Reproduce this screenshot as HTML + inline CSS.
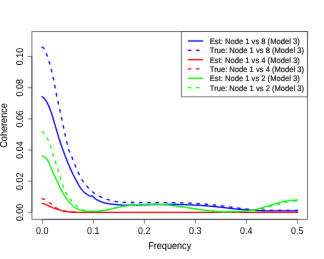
<!DOCTYPE html>
<html><head><meta charset="utf-8"><title>Coherence</title>
<style>
html,body{margin:0;padding:0;background:#fff;}
body{width:324px;height:259px;overflow:hidden;position:relative;}
svg text{font-family:"Liberation Sans",sans-serif;fill:#000;text-rendering:geometricPrecision;}
</style></head><body>
<svg width="324" height="259" viewBox="0 0 324 259" style="display:block;position:absolute;left:0;top:0">
<defs><filter id="tb" filterUnits="userSpaceOnUse" x="0" y="0" width="324" height="259" color-interpolation-filters="sRGB"><feConvolveMatrix order="3" kernelMatrix="0.0016 0.0368 0.0016 0.0368 0.8464 0.0368 0.0016 0.0368 0.0016" preserveAlpha="false" edgeMode="duplicate"/></filter></defs>
<defs><filter id="bl" filterUnits="userSpaceOnUse" x="0" y="0" width="324" height="259" color-interpolation-filters="sRGB"><feConvolveMatrix order="3" kernelMatrix="0.0036 0.0528 0.0036 0.0528 0.7744 0.0528 0.0036 0.0528 0.0036" preserveAlpha="false" edgeMode="duplicate"/></filter></defs>
<rect x="0" y="0" width="324" height="259" fill="#fff"/>
<g filter="url(#bl)">
<g><path d="M41.65,96.40 L42.15,96.67 L42.65,97.02 L43.15,97.44 L43.65,97.92 L44.15,98.46 L44.65,99.04 L45.15,99.67 L45.65,100.32 L46.00,100.80 L46.15,101.01 L46.65,101.79 L47.15,102.67 L47.65,103.65 L48.15,104.72 L48.65,105.85 L49.15,107.04 L49.65,108.29 L50.15,109.57 L50.65,110.87 L51.00,111.80 L51.15,112.20 L51.65,113.64 L52.15,115.20 L52.65,116.84 L53.15,118.54 L53.65,120.27 L54.15,122.00 L54.65,123.70 L54.80,124.20 L55.15,125.37 L55.65,127.07 L56.15,128.80 L56.65,130.54 L57.15,132.27 L57.65,133.99 L58.15,135.68 L58.65,137.33 L59.15,138.93 L59.30,139.40 L59.65,140.47 L60.15,141.98 L60.65,143.45 L61.15,144.89 L61.65,146.31 L62.15,147.71 L62.65,149.10 L63.15,150.47 L63.60,151.70 L63.65,151.84 L64.15,153.19 L64.65,154.54 L65.15,155.86 L65.65,157.17 L66.15,158.46 L66.65,159.73 L67.15,160.98 L67.20,161.10 L67.65,162.20 L68.15,163.42 L68.65,164.62 L69.15,165.81 L69.65,166.98 L70.15,168.13 L70.65,169.26 L71.15,170.37 L71.65,171.46 L72.00,172.20 L72.15,172.51 L72.65,173.54 L73.15,174.55 L73.65,175.53 L74.15,176.49 L74.65,177.44 L75.15,178.38 L75.65,179.31 L76.15,180.25 L76.50,180.90 L76.65,181.18 L77.15,182.14 L77.65,183.09 L78.15,184.03 L78.65,184.93 L79.15,185.77 L79.30,186.00 L79.65,186.53 L80.15,187.28 L80.65,188.01 L81.15,188.70 L81.65,189.37 L82.15,190.00 L82.65,190.60 L83.15,191.15 L83.60,191.60 L83.65,191.65 L84.15,192.12 L84.65,192.56 L85.15,192.98 L85.65,193.39 L86.15,193.77 L86.65,194.13 L87.15,194.47 L87.65,194.79 L88.15,195.10 L88.50,195.30 L88.65,195.39 L89.15,195.70 L89.65,195.99 L90.15,196.17 L90.40,196.20 L90.65,196.18 L91.15,196.09 L91.65,195.97 L92.15,195.90 L92.20,195.90 L92.65,196.06 L93.15,196.51 L93.65,197.13 L94.15,197.76 L94.65,198.26 L94.70,198.30 L95.15,198.62 L95.65,198.96 L96.15,199.29 L96.65,199.59 L97.15,199.88 L97.65,200.15 L98.15,200.41 L98.65,200.66 L99.15,200.90 L99.60,201.10 L99.65,201.12 L100.15,201.34 L100.65,201.55 L101.15,201.76 L101.65,201.95 L102.15,202.14 L102.65,202.32 L103.15,202.49 L103.65,202.64 L104.15,202.78 L104.60,202.90 L104.65,202.91 L105.15,203.03 L105.65,203.14 L106.15,203.25 L106.65,203.35 L107.15,203.44 L107.65,203.53 L108.15,203.61 L108.65,203.70 L109.15,203.77 L109.65,203.85 L110.00,203.90 L110.15,203.92 L110.65,203.99 L111.15,204.06 L111.65,204.13 L112.15,204.20 L112.65,204.26 L113.15,204.32 L113.65,204.37 L114.15,204.42 L114.65,204.47 L115.00,204.50 L115.15,204.51 L115.65,204.55 L116.15,204.60 L116.65,204.64 L117.15,204.68 L117.65,204.72 L118.15,204.76 L118.65,204.80 L119.15,204.84 L119.65,204.88 L120.15,204.91 L120.65,204.95 L121.15,204.98 L121.65,205.01 L122.15,205.03 L122.65,205.05 L123.15,205.07 L123.65,205.08 L124.15,205.09 L124.65,205.10 L125.00,205.10 L125.15,205.10 L125.65,205.10 L126.15,205.10 L126.65,205.10 L127.15,205.10 L127.65,205.10 L128.15,205.10 L128.65,205.10 L129.15,205.10 L129.65,205.10 L130.15,205.10 L130.65,205.10 L131.15,205.10 L131.65,205.10 L132.15,205.10 L132.65,205.10 L133.15,205.10 L133.65,205.10 L134.15,205.10 L134.65,205.10 L135.00,205.10 L135.15,205.10 L135.65,205.10 L136.15,205.10 L136.65,205.09 L137.15,205.09 L137.65,205.08 L138.15,205.07 L138.65,205.06 L139.15,205.05 L139.65,205.04 L140.15,205.03 L140.65,205.01 L141.15,205.00 L141.65,204.98 L142.15,204.97 L142.65,204.95 L143.15,204.93 L143.65,204.92 L144.15,204.90 L144.65,204.88 L145.15,204.87 L145.65,204.85 L146.15,204.83 L146.65,204.81 L147.15,204.79 L147.65,204.78 L148.15,204.76 L148.65,204.74 L149.15,204.73 L149.65,204.71 L150.15,204.70 L150.65,204.68 L151.15,204.67 L151.65,204.66 L152.15,204.65 L152.65,204.63 L153.15,204.62 L153.65,204.62 L154.15,204.61 L154.65,204.60 L155.00,204.60 L155.15,204.60 L155.65,204.59 L156.15,204.59 L156.65,204.59 L157.15,204.58 L157.65,204.58 L158.15,204.57 L158.65,204.57 L159.15,204.57 L159.65,204.56 L160.15,204.56 L160.65,204.56 L161.15,204.55 L161.65,204.55 L162.15,204.55 L162.65,204.54 L163.15,204.54 L163.65,204.54 L164.15,204.53 L164.65,204.53 L165.15,204.53 L165.65,204.53 L166.15,204.52 L166.65,204.52 L167.15,204.52 L167.65,204.52 L168.15,204.51 L168.65,204.51 L169.15,204.51 L169.65,204.51 L170.15,204.51 L170.65,204.51 L171.15,204.50 L171.65,204.50 L172.15,204.50 L172.65,204.50 L173.15,204.50 L173.65,204.50 L174.15,204.50 L174.65,204.50 L175.00,204.50 L175.15,204.50 L175.65,204.50 L176.15,204.50 L176.65,204.51 L177.15,204.51 L177.65,204.52 L178.15,204.52 L178.65,204.53 L179.15,204.54 L179.65,204.55 L180.15,204.56 L180.65,204.57 L181.15,204.58 L181.65,204.59 L182.15,204.61 L182.65,204.62 L183.15,204.64 L183.65,204.65 L184.15,204.67 L184.65,204.68 L185.15,204.70 L185.65,204.72 L186.15,204.74 L186.65,204.76 L187.15,204.78 L187.65,204.80 L188.15,204.82 L188.65,204.84 L189.15,204.86 L189.65,204.88 L190.15,204.90 L190.65,204.92 L191.15,204.94 L191.65,204.96 L192.15,204.98 L192.65,205.01 L193.15,205.03 L193.65,205.05 L194.15,205.07 L194.65,205.09 L194.80,205.10 L195.15,205.12 L195.65,205.14 L196.15,205.16 L196.65,205.19 L197.15,205.22 L197.65,205.24 L198.15,205.27 L198.65,205.30 L199.15,205.33 L199.65,205.37 L200.15,205.40 L200.65,205.43 L201.15,205.47 L201.65,205.50 L202.15,205.54 L202.65,205.58 L203.15,205.62 L203.65,205.65 L204.15,205.69 L204.65,205.73 L205.15,205.77 L205.65,205.82 L206.15,205.86 L206.65,205.90 L207.15,205.94 L207.65,205.99 L208.15,206.03 L208.65,206.07 L209.15,206.12 L209.65,206.16 L210.15,206.21 L210.65,206.25 L211.15,206.30 L211.65,206.34 L212.15,206.39 L212.65,206.43 L213.15,206.48 L213.65,206.52 L214.15,206.57 L214.50,206.60 L214.65,206.61 L215.15,206.66 L215.65,206.71 L216.15,206.76 L216.65,206.81 L217.15,206.86 L217.65,206.91 L218.15,206.96 L218.65,207.02 L219.15,207.07 L219.65,207.13 L220.15,207.18 L220.65,207.24 L221.15,207.30 L221.65,207.36 L222.15,207.41 L222.65,207.47 L223.15,207.53 L223.65,207.59 L224.15,207.65 L224.65,207.71 L225.15,207.77 L225.65,207.83 L226.15,207.89 L226.65,207.95 L227.15,208.01 L227.65,208.07 L228.15,208.13 L228.65,208.19 L229.15,208.24 L229.65,208.30 L230.15,208.36 L230.65,208.42 L231.15,208.47 L231.65,208.53 L232.15,208.58 L232.65,208.63 L233.15,208.68 L233.65,208.74 L234.15,208.79 L234.30,208.80 L234.65,208.83 L235.15,208.88 L235.65,208.93 L236.15,208.98 L236.65,209.03 L237.15,209.08 L237.65,209.13 L238.15,209.18 L238.65,209.23 L239.15,209.28 L239.65,209.33 L240.15,209.38 L240.65,209.43 L241.15,209.47 L241.65,209.52 L242.15,209.57 L242.65,209.61 L243.15,209.66 L243.65,209.70 L244.15,209.75 L244.65,209.79 L245.15,209.83 L245.65,209.87 L246.15,209.91 L246.65,209.94 L247.15,209.98 L247.65,210.01 L248.15,210.05 L248.65,210.08 L249.00,210.10 L249.15,210.11 L249.65,210.14 L250.15,210.17 L250.65,210.20 L251.15,210.23 L251.65,210.26 L252.15,210.29 L252.65,210.31 L253.15,210.34 L253.65,210.37 L254.15,210.40 L254.65,210.43 L255.15,210.45 L255.65,210.48 L256.15,210.51 L256.65,210.53 L257.15,210.56 L257.65,210.58 L258.15,210.60 L258.65,210.63 L259.15,210.65 L259.65,210.67 L260.15,210.68 L260.65,210.70 L261.15,210.72 L261.65,210.73 L262.15,210.75 L262.65,210.76 L263.15,210.77 L263.65,210.78 L264.15,210.79 L264.65,210.80 L265.00,210.80 L265.15,210.80 L265.65,210.81 L266.15,210.81 L266.65,210.81 L267.15,210.82 L267.65,210.82 L268.15,210.83 L268.65,210.83 L269.15,210.84 L269.65,210.84 L270.15,210.84 L270.65,210.85 L271.15,210.85 L271.65,210.85 L272.15,210.86 L272.65,210.86 L273.15,210.86 L273.65,210.87 L274.15,210.87 L274.65,210.87 L275.15,210.88 L275.65,210.88 L276.15,210.88 L276.65,210.89 L277.15,210.89 L277.65,210.89 L278.15,210.90 L278.65,210.90 L279.15,210.90 L279.65,210.90 L280.15,210.91 L280.65,210.91 L281.15,210.91 L281.65,210.91 L282.15,210.92 L282.65,210.92 L283.15,210.92 L283.65,210.92 L284.15,210.92 L284.65,210.93 L285.15,210.93 L285.65,210.93 L286.15,210.93 L286.65,210.93 L287.15,210.93 L287.65,210.94 L288.15,210.94 L288.65,210.94 L289.15,210.94 L289.65,210.94 L290.15,210.94 L290.65,210.94 L291.15,210.94 L291.65,210.94 L292.15,210.95 L292.65,210.95 L293.15,210.95 L293.65,210.95 L294.15,210.95 L294.65,210.95 L295.15,210.95 L295.65,210.95 L296.15,210.95 L296.65,210.95 L297.15,210.95 L297.65,210.95 L298.00,210.95" fill="none" stroke="#0000ff" stroke-width="1.3" stroke-linejoin="round" stroke-linecap="butt"/>
<path d="M41.65,47.00 L42.15,47.08 L42.65,47.31 L43.15,47.67 L43.65,48.11 L44.15,48.62 L44.50,49.00 L44.65,49.19 L45.15,50.07 L45.65,51.27 L46.15,52.65 L46.65,54.09 L46.90,54.80 L47.15,55.50 L47.65,56.98 L48.15,58.55 L48.65,60.19 L49.15,61.89 L49.65,63.65 L50.15,65.45 L50.60,67.10 L50.65,67.28 L51.15,69.15 L51.65,71.08 L52.15,73.08 L52.65,75.16 L53.15,77.34 L53.60,79.40 L53.65,79.64 L54.15,82.17 L54.65,84.93 L55.15,87.79 L55.65,90.60 L56.15,93.25 L56.20,93.50 L56.65,95.69 L57.15,98.05 L57.65,100.33 L58.15,102.55 L58.65,104.74 L59.15,106.92 L59.65,109.10 L60.15,111.31 L60.65,113.55 L60.90,114.70 L61.15,115.86 L61.65,118.23 L62.15,120.63 L62.65,123.06 L63.15,125.49 L63.65,127.91 L64.15,130.30 L64.65,132.64 L65.15,134.92 L65.60,136.90 L65.65,137.12 L66.15,139.31 L66.65,141.51 L67.15,143.68 L67.65,145.76 L68.15,147.69 L68.65,149.43 L69.00,150.50 L69.15,150.92 L69.65,152.18 L70.15,153.29 L70.65,154.34 L71.15,155.42 L71.40,156.00 L71.65,156.61 L72.15,157.85 L72.65,159.13 L73.15,160.42 L73.65,161.71 L74.15,162.99 L74.65,164.24 L74.80,164.60 L75.15,165.44 L75.65,166.65 L76.15,167.84 L76.65,169.00 L77.15,170.15 L77.65,171.25 L78.00,172.00 L78.15,172.32 L78.65,173.36 L79.15,174.39 L79.65,175.41 L80.15,176.39 L80.65,177.33 L81.15,178.24 L81.65,179.09 L81.90,179.50 L82.15,179.89 L82.65,180.66 L83.15,181.39 L83.65,182.09 L84.15,182.77 L84.65,183.42 L85.15,184.06 L85.65,184.68 L86.15,185.30 L86.40,185.60 L86.65,185.90 L87.15,186.50 L87.65,187.08 L88.15,187.65 L88.65,188.21 L89.15,188.75 L89.65,189.26 L90.15,189.76 L90.40,190.00 L90.65,190.23 L91.15,190.69 L91.65,191.12 L92.15,191.54 L92.65,191.94 L93.15,192.33 L93.50,192.60 L93.65,192.71 L94.15,193.09 L94.65,193.46 L95.15,193.81 L95.65,194.15 L96.15,194.48 L96.50,194.70 L96.65,194.79 L97.15,195.09 L97.65,195.38 L98.15,195.66 L98.65,195.93 L99.15,196.19 L99.65,196.44 L100.15,196.68 L100.20,196.70 L100.65,196.90 L101.15,197.11 L101.65,197.31 L102.15,197.51 L102.65,197.70 L103.15,197.89 L103.65,198.07 L104.00,198.20 L104.15,198.26 L104.65,198.44 L105.15,198.63 L105.65,198.81 L106.15,198.99 L106.65,199.16 L107.15,199.33 L107.65,199.48 L107.70,199.50 L108.15,199.64 L108.65,199.80 L109.15,199.95 L109.65,200.11 L110.15,200.26 L110.65,200.41 L111.15,200.56 L111.65,200.70 L112.15,200.84 L112.65,200.97 L113.15,201.08 L113.65,201.19 L114.15,201.29 L114.65,201.38 L114.80,201.40 L115.15,201.45 L115.65,201.53 L116.15,201.60 L116.65,201.67 L117.15,201.74 L117.65,201.81 L118.15,201.87 L118.65,201.94 L119.15,202.00 L119.65,202.05 L120.15,202.11 L120.65,202.16 L121.15,202.20 L121.65,202.25 L122.15,202.28 L122.65,202.32 L123.15,202.35 L123.65,202.37 L124.15,202.39 L124.65,202.40 L124.70,202.40 L125.15,202.41 L125.65,202.42 L126.15,202.42 L126.65,202.43 L127.15,202.44 L127.65,202.44 L128.15,202.45 L128.65,202.46 L129.15,202.46 L129.65,202.47 L130.15,202.48 L130.65,202.48 L131.15,202.49 L131.65,202.49 L132.15,202.50 L132.65,202.50 L133.15,202.50 L133.65,202.51 L134.15,202.51 L134.65,202.52 L135.15,202.52 L135.65,202.52 L136.15,202.53 L136.65,202.53 L137.15,202.53 L137.65,202.54 L138.15,202.54 L138.65,202.54 L139.15,202.55 L139.65,202.55 L140.15,202.55 L140.65,202.56 L141.15,202.56 L141.65,202.56 L142.15,202.56 L142.65,202.56 L143.15,202.57 L143.65,202.57 L144.15,202.57 L144.65,202.57 L145.15,202.58 L145.65,202.58 L146.15,202.58 L146.65,202.58 L147.15,202.59 L147.65,202.59 L148.15,202.59 L148.65,202.59 L149.15,202.60 L149.65,202.60 L150.00,202.60 L150.15,202.60 L150.65,202.60 L151.15,202.61 L151.65,202.61 L152.15,202.61 L152.65,202.61 L153.15,202.61 L153.65,202.62 L154.15,202.62 L154.65,202.62 L155.15,202.62 L155.65,202.62 L156.15,202.63 L156.65,202.63 L157.15,202.63 L157.65,202.63 L158.15,202.63 L158.65,202.63 L159.15,202.63 L159.65,202.64 L160.15,202.64 L160.65,202.64 L161.15,202.64 L161.65,202.64 L162.15,202.64 L162.65,202.64 L163.15,202.65 L163.65,202.65 L164.15,202.65 L164.65,202.65 L165.15,202.65 L165.65,202.65 L166.15,202.65 L166.65,202.66 L167.15,202.66 L167.65,202.66 L168.15,202.66 L168.65,202.66 L169.15,202.67 L169.65,202.67 L170.15,202.67 L170.65,202.67 L171.15,202.68 L171.65,202.68 L172.15,202.68 L172.65,202.68 L173.15,202.69 L173.65,202.69 L174.15,202.69 L174.65,202.70 L175.00,202.70 L175.15,202.70 L175.65,202.71 L176.15,202.71 L176.65,202.72 L177.15,202.73 L177.65,202.73 L178.15,202.74 L178.65,202.75 L179.15,202.76 L179.65,202.78 L180.15,202.79 L180.65,202.80 L181.15,202.82 L181.65,202.83 L182.15,202.85 L182.65,202.86 L183.15,202.88 L183.65,202.90 L184.15,202.92 L184.65,202.94 L185.15,202.96 L185.65,202.98 L186.15,203.00 L186.65,203.02 L187.15,203.04 L187.65,203.06 L188.15,203.08 L188.65,203.11 L189.15,203.13 L189.65,203.15 L190.15,203.17 L190.65,203.20 L191.15,203.22 L191.65,203.25 L192.15,203.27 L192.65,203.29 L193.15,203.32 L193.65,203.34 L194.15,203.37 L194.65,203.39 L194.80,203.40 L195.15,203.42 L195.65,203.44 L196.15,203.47 L196.65,203.50 L197.15,203.53 L197.65,203.56 L198.15,203.59 L198.65,203.62 L199.15,203.65 L199.65,203.69 L200.15,203.72 L200.65,203.76 L201.15,203.80 L201.65,203.83 L202.15,203.87 L202.65,203.91 L203.15,203.95 L203.65,203.99 L204.15,204.03 L204.65,204.07 L205.15,204.12 L205.65,204.16 L206.15,204.20 L206.65,204.25 L207.15,204.29 L207.65,204.34 L208.15,204.38 L208.65,204.43 L209.15,204.48 L209.65,204.52 L210.15,204.57 L210.65,204.62 L211.15,204.67 L211.65,204.72 L212.15,204.77 L212.65,204.82 L213.15,204.87 L213.65,204.91 L214.15,204.96 L214.50,205.00 L214.65,205.02 L215.15,205.07 L215.65,205.12 L216.15,205.17 L216.65,205.23 L217.15,205.29 L217.65,205.35 L218.15,205.41 L218.65,205.47 L219.15,205.53 L219.65,205.60 L220.15,205.66 L220.65,205.73 L221.15,205.80 L221.65,205.86 L222.15,205.93 L222.65,206.00 L223.15,206.07 L223.65,206.14 L224.15,206.21 L224.65,206.28 L225.15,206.35 L225.65,206.42 L226.15,206.49 L226.65,206.56 L227.15,206.64 L227.65,206.71 L228.15,206.78 L228.65,206.85 L229.15,206.92 L229.65,206.99 L230.15,207.06 L230.65,207.12 L231.15,207.19 L231.65,207.26 L232.15,207.33 L232.65,207.39 L233.15,207.46 L233.65,207.52 L234.15,207.58 L234.30,207.60 L234.65,207.64 L235.15,207.71 L235.65,207.77 L236.15,207.83 L236.65,207.90 L237.15,207.96 L237.65,208.02 L238.15,208.09 L238.65,208.15 L239.15,208.22 L239.65,208.28 L240.15,208.35 L240.65,208.41 L241.15,208.47 L241.65,208.54 L242.15,208.60 L242.65,208.66 L243.15,208.72 L243.65,208.78 L244.15,208.83 L244.65,208.89 L245.15,208.94 L245.65,209.00 L246.15,209.05 L246.65,209.10 L247.15,209.14 L247.65,209.19 L248.15,209.23 L248.65,209.27 L249.00,209.30 L249.15,209.31 L249.65,209.35 L250.15,209.39 L250.65,209.43 L251.15,209.46 L251.65,209.50 L252.15,209.54 L252.65,209.58 L253.15,209.61 L253.65,209.65 L254.15,209.68 L254.65,209.72 L255.15,209.75 L255.65,209.79 L256.15,209.82 L256.65,209.85 L257.15,209.88 L257.65,209.91 L258.15,209.94 L258.65,209.97 L259.15,210.00 L259.65,210.02 L260.15,210.05 L260.65,210.07 L261.15,210.09 L261.65,210.11 L262.15,210.13 L262.65,210.14 L263.15,210.16 L263.65,210.17 L264.15,210.18 L264.65,210.19 L265.00,210.20 L265.15,210.20 L265.65,210.21 L266.15,210.22 L266.65,210.22 L267.15,210.23 L267.65,210.24 L268.15,210.24 L268.65,210.25 L269.15,210.26 L269.65,210.26 L270.15,210.27 L270.65,210.28 L271.15,210.28 L271.65,210.29 L272.15,210.29 L272.65,210.30 L273.15,210.31 L273.65,210.31 L274.15,210.32 L274.65,210.32 L275.15,210.33 L275.65,210.33 L276.15,210.34 L276.65,210.34 L277.15,210.35 L277.65,210.35 L278.15,210.36 L278.65,210.36 L279.15,210.37 L279.65,210.37 L280.15,210.37 L280.65,210.38 L281.15,210.38 L281.65,210.39 L282.15,210.39 L282.65,210.39 L283.15,210.40 L283.65,210.40 L284.15,210.40 L284.65,210.41 L285.15,210.41 L285.65,210.41 L286.15,210.42 L286.65,210.42 L287.15,210.42 L287.65,210.42 L288.15,210.43 L288.65,210.43 L289.15,210.43 L289.65,210.43 L290.15,210.44 L290.65,210.44 L291.15,210.44 L291.65,210.44 L292.15,210.44 L292.65,210.44 L293.15,210.44 L293.65,210.45 L294.15,210.45 L294.65,210.45 L295.15,210.45 L295.65,210.45 L296.15,210.45 L296.65,210.45 L297.15,210.45 L297.65,210.45 L298.00,210.45" fill="none" stroke="#0000ff" stroke-width="1.3" stroke-linejoin="round" stroke-dasharray="3.6 4.6" stroke-linecap="butt"/>
<path d="M41.65,203.30 L42.15,203.37 L42.65,203.46 L43.15,203.57 L43.65,203.69 L44.15,203.83 L44.65,203.99 L45.15,204.15 L45.30,204.20 L45.65,204.33 L46.15,204.56 L46.65,204.81 L47.15,205.09 L47.65,205.36 L48.15,205.63 L48.30,205.70 L48.65,205.87 L49.15,206.11 L49.65,206.35 L50.15,206.58 L50.65,206.81 L51.15,207.04 L51.65,207.25 L52.00,207.40 L52.15,207.46 L52.65,207.66 L53.15,207.86 L53.65,208.05 L54.15,208.23 L54.65,208.41 L55.15,208.58 L55.65,208.75 L55.80,208.80 L56.15,208.91 L56.65,209.07 L57.15,209.22 L57.65,209.37 L58.15,209.52 L58.65,209.66 L59.15,209.80 L59.50,209.90 L59.65,209.94 L60.15,210.09 L60.65,210.23 L61.15,210.37 L61.65,210.51 L62.15,210.65 L62.65,210.77 L63.15,210.89 L63.20,210.90 L63.65,211.00 L64.15,211.11 L64.65,211.21 L65.15,211.32 L65.65,211.42 L66.15,211.51 L66.65,211.60 L67.15,211.67 L67.65,211.74 L68.10,211.80 L68.15,211.81 L68.65,211.86 L69.15,211.92 L69.65,211.97 L70.15,212.02 L70.65,212.06 L71.15,212.10 L71.65,212.14 L72.15,212.17 L72.65,212.19 L73.00,212.20 L73.15,212.20 L73.65,212.22 L74.15,212.23 L74.65,212.24 L75.15,212.25 L75.65,212.26 L76.15,212.27 L76.65,212.27 L77.15,212.28 L77.65,212.29 L78.15,212.29 L78.65,212.30 L79.15,212.30 L79.65,212.30 L80.00,212.30 L80.15,212.30 L80.65,212.30 L81.15,212.30 L81.65,212.30 L82.15,212.30 L82.65,212.30 L83.15,212.30 L83.65,212.30 L84.15,212.30 L84.65,212.30 L85.15,212.30 L85.65,212.30 L86.15,212.30 L86.65,212.30 L87.15,212.30 L87.65,212.30 L88.15,212.30 L88.65,212.30 L89.15,212.30 L89.65,212.30 L90.15,212.30 L90.65,212.30 L91.15,212.30 L91.65,212.30 L92.15,212.30 L92.65,212.30 L93.15,212.30 L93.65,212.30 L94.15,212.30 L94.65,212.30 L95.15,212.30 L95.65,212.30 L96.15,212.30 L96.65,212.30 L97.15,212.30 L97.65,212.30 L98.15,212.30 L98.65,212.30 L99.15,212.30 L99.65,212.30 L100.15,212.30 L100.65,212.30 L101.15,212.30 L101.65,212.30 L102.15,212.30 L102.65,212.30 L103.15,212.30 L103.65,212.30 L104.15,212.30 L104.65,212.30 L105.15,212.30 L105.65,212.30 L106.15,212.30 L106.65,212.30 L107.15,212.30 L107.65,212.30 L108.15,212.30 L108.65,212.30 L109.15,212.30 L109.65,212.30 L110.15,212.30 L110.65,212.30 L111.15,212.30 L111.65,212.30 L112.15,212.30 L112.65,212.30 L113.15,212.30 L113.65,212.30 L114.15,212.30 L114.65,212.30 L115.15,212.30 L115.65,212.30 L116.15,212.30 L116.65,212.30 L117.15,212.30 L117.65,212.30 L118.15,212.30 L118.65,212.30 L119.15,212.30 L119.65,212.30 L120.15,212.30 L120.65,212.30 L121.15,212.30 L121.65,212.30 L122.15,212.30 L122.65,212.30 L123.15,212.30 L123.65,212.30 L124.15,212.30 L124.65,212.30 L125.15,212.30 L125.65,212.30 L126.15,212.30 L126.65,212.30 L127.15,212.30 L127.65,212.30 L128.15,212.30 L128.65,212.30 L129.15,212.30 L129.65,212.30 L130.15,212.30 L130.65,212.30 L131.15,212.30 L131.65,212.30 L132.15,212.30 L132.65,212.30 L133.15,212.30 L133.65,212.30 L134.15,212.30 L134.65,212.30 L135.15,212.30 L135.65,212.30 L136.15,212.30 L136.65,212.30 L137.15,212.30 L137.65,212.30 L138.15,212.30 L138.65,212.30 L139.15,212.30 L139.65,212.30 L140.15,212.30 L140.65,212.30 L141.15,212.30 L141.65,212.30 L142.15,212.30 L142.65,212.30 L143.15,212.30 L143.65,212.30 L144.15,212.30 L144.65,212.30 L145.15,212.30 L145.65,212.30 L146.15,212.30 L146.65,212.30 L147.15,212.30 L147.65,212.30 L148.15,212.30 L148.65,212.30 L149.15,212.30 L149.65,212.30 L150.15,212.30 L150.65,212.30 L151.15,212.30 L151.65,212.30 L152.15,212.30 L152.65,212.30 L153.15,212.30 L153.65,212.30 L154.15,212.30 L154.65,212.30 L155.15,212.30 L155.65,212.30 L156.15,212.30 L156.65,212.30 L157.15,212.30 L157.65,212.30 L158.15,212.30 L158.65,212.30 L159.15,212.30 L159.65,212.30 L160.15,212.30 L160.65,212.30 L161.15,212.30 L161.65,212.30 L162.15,212.30 L162.65,212.30 L163.15,212.30 L163.65,212.30 L164.15,212.30 L164.65,212.30 L165.15,212.30 L165.65,212.30 L166.15,212.30 L166.65,212.30 L167.15,212.30 L167.65,212.30 L168.15,212.30 L168.65,212.30 L169.15,212.30 L169.65,212.30 L170.15,212.30 L170.65,212.30 L171.15,212.30 L171.65,212.30 L172.15,212.30 L172.65,212.30 L173.15,212.30 L173.65,212.30 L174.15,212.30 L174.65,212.30 L175.15,212.30 L175.65,212.30 L176.15,212.30 L176.65,212.30 L177.15,212.30 L177.65,212.30 L178.15,212.30 L178.65,212.30 L179.15,212.30 L179.65,212.30 L180.15,212.30 L180.65,212.30 L181.15,212.30 L181.65,212.30 L182.15,212.30 L182.65,212.30 L183.15,212.30 L183.65,212.30 L184.15,212.30 L184.65,212.30 L185.15,212.30 L185.65,212.30 L186.15,212.30 L186.65,212.30 L187.15,212.30 L187.65,212.30 L188.15,212.30 L188.65,212.30 L189.15,212.30 L189.65,212.30 L190.15,212.30 L190.65,212.30 L191.15,212.30 L191.65,212.30 L192.15,212.30 L192.65,212.30 L193.15,212.30 L193.65,212.30 L194.15,212.30 L194.65,212.30 L195.15,212.30 L195.65,212.30 L196.15,212.30 L196.65,212.30 L197.15,212.30 L197.65,212.30 L198.15,212.30 L198.65,212.30 L199.15,212.30 L199.65,212.30 L200.15,212.30 L200.65,212.30 L201.15,212.30 L201.65,212.30 L202.15,212.30 L202.65,212.30 L203.15,212.30 L203.65,212.30 L204.15,212.30 L204.65,212.30 L205.15,212.30 L205.65,212.30 L206.15,212.30 L206.65,212.30 L207.15,212.30 L207.65,212.30 L208.15,212.30 L208.65,212.30 L209.15,212.30 L209.65,212.30 L210.15,212.30 L210.65,212.30 L211.15,212.30 L211.65,212.30 L212.15,212.30 L212.65,212.30 L213.15,212.30 L213.65,212.30 L214.15,212.30 L214.65,212.30 L215.15,212.30 L215.65,212.30 L216.15,212.30 L216.65,212.30 L217.15,212.30 L217.65,212.30 L218.15,212.30 L218.65,212.30 L219.15,212.30 L219.65,212.30 L220.15,212.30 L220.65,212.30 L221.15,212.30 L221.65,212.30 L222.15,212.30 L222.65,212.30 L223.15,212.30 L223.65,212.30 L224.15,212.30 L224.65,212.30 L225.15,212.30 L225.65,212.30 L226.15,212.30 L226.65,212.30 L227.15,212.30 L227.65,212.30 L228.15,212.30 L228.65,212.30 L229.15,212.30 L229.65,212.30 L230.15,212.30 L230.65,212.30 L231.15,212.30 L231.65,212.30 L232.15,212.30 L232.65,212.30 L233.15,212.30 L233.65,212.30 L234.15,212.30 L234.65,212.30 L235.15,212.30 L235.65,212.30 L236.15,212.30 L236.65,212.30 L237.15,212.30 L237.65,212.30 L238.15,212.30 L238.65,212.30 L239.15,212.30 L239.65,212.30 L240.15,212.30 L240.65,212.30 L241.15,212.30 L241.65,212.30 L242.15,212.30 L242.65,212.30 L243.15,212.30 L243.65,212.30 L244.15,212.30 L244.65,212.30 L245.15,212.30 L245.65,212.30 L246.15,212.30 L246.65,212.30 L247.15,212.30 L247.65,212.30 L248.15,212.30 L248.65,212.30 L249.15,212.30 L249.65,212.30 L250.15,212.30 L250.65,212.30 L251.15,212.30 L251.65,212.30 L252.15,212.30 L252.65,212.30 L253.15,212.30 L253.65,212.30 L254.15,212.30 L254.65,212.30 L255.15,212.30 L255.65,212.30 L256.15,212.30 L256.65,212.30 L257.15,212.30 L257.65,212.30 L258.15,212.30 L258.65,212.30 L259.15,212.30 L259.65,212.30 L260.15,212.30 L260.65,212.30 L261.15,212.30 L261.65,212.30 L262.15,212.30 L262.65,212.30 L263.15,212.30 L263.65,212.30 L264.15,212.30 L264.65,212.30 L265.15,212.30 L265.65,212.30 L266.15,212.30 L266.65,212.30 L267.15,212.30 L267.65,212.30 L268.15,212.30 L268.65,212.30 L269.15,212.30 L269.65,212.30 L270.15,212.30 L270.65,212.30 L271.15,212.30 L271.65,212.30 L272.15,212.30 L272.65,212.30 L273.15,212.30 L273.65,212.30 L274.15,212.30 L274.65,212.30 L275.15,212.30 L275.65,212.30 L276.15,212.30 L276.65,212.30 L277.15,212.30 L277.65,212.30 L278.15,212.30 L278.65,212.30 L279.15,212.30 L279.65,212.30 L280.15,212.30 L280.65,212.30 L281.15,212.30 L281.65,212.30 L282.15,212.30 L282.65,212.30 L283.15,212.30 L283.65,212.30 L284.15,212.30 L284.65,212.30 L285.15,212.30 L285.65,212.30 L286.15,212.30 L286.65,212.30 L287.15,212.30 L287.65,212.30 L288.15,212.30 L288.65,212.30 L289.15,212.30 L289.65,212.30 L290.15,212.30 L290.65,212.30 L291.15,212.30 L291.65,212.30 L292.15,212.30 L292.65,212.30 L293.15,212.30 L293.65,212.30 L294.15,212.30 L294.65,212.30 L295.15,212.30 L295.65,212.30 L296.15,212.30 L296.65,212.30 L297.15,212.30 L297.65,212.30 L298.00,212.30" fill="none" stroke="#ff0000" stroke-width="1.3" stroke-linejoin="round" stroke-linecap="butt"/>
<path d="M41.65,198.70 L42.15,198.73 L42.65,198.80 L43.15,198.92 L43.65,199.07 L44.15,199.24 L44.65,199.44 L45.15,199.64 L45.30,199.70 L45.65,199.87 L46.15,200.21 L46.65,200.61 L47.15,201.05 L47.65,201.49 L48.15,201.89 L48.30,202.00 L48.65,202.24 L49.15,202.56 L49.65,202.86 L50.15,203.15 L50.65,203.45 L51.15,203.78 L51.65,204.13 L52.00,204.40 L52.15,204.53 L52.65,205.04 L53.15,205.63 L53.65,206.21 L54.15,206.72 L54.50,207.00 L54.65,207.10 L55.15,207.40 L55.65,207.67 L56.15,207.91 L56.65,208.13 L57.15,208.34 L57.65,208.54 L58.15,208.73 L58.65,208.94 L58.80,209.00 L59.15,209.15 L59.65,209.36 L60.15,209.58 L60.65,209.79 L61.15,209.99 L61.65,210.18 L62.15,210.37 L62.65,210.54 L63.15,210.69 L63.20,210.70 L63.65,210.82 L64.15,210.96 L64.65,211.09 L65.15,211.21 L65.65,211.32 L66.15,211.43 L66.65,211.53 L67.15,211.62 L67.65,211.69 L68.10,211.75 L68.15,211.76 L68.65,211.81 L69.15,211.87 L69.65,211.93 L70.15,211.98 L70.65,212.03 L71.15,212.08 L71.65,212.12 L72.15,212.16 L72.65,212.20 L73.15,212.23 L73.65,212.25 L74.15,212.27 L74.65,212.28 L75.00,212.28" fill="none" stroke="#ff0000" stroke-width="1.3" stroke-linejoin="round" stroke-dasharray="3.6 4.6" stroke-linecap="butt"/>
<path d="M41.65,156.00 L42.15,156.04 L42.65,156.14 L43.15,156.29 L43.65,156.47 L44.15,156.68 L44.20,156.70 L44.65,156.94 L45.15,157.31 L45.65,157.77 L46.15,158.29 L46.60,158.80 L46.65,158.86 L47.15,159.53 L47.65,160.33 L48.15,161.23 L48.65,162.19 L49.10,163.10 L49.15,163.20 L49.65,164.32 L50.15,165.57 L50.65,166.88 L51.15,168.18 L51.60,169.30 L51.65,169.42 L52.15,170.60 L52.65,171.78 L53.15,172.92 L53.65,174.04 L54.00,174.80 L54.15,175.12 L54.65,176.14 L55.15,177.12 L55.65,178.10 L56.15,179.09 L56.50,179.80 L56.65,180.11 L57.15,181.18 L57.65,182.27 L58.15,183.36 L58.40,183.90 L58.65,184.44 L59.15,185.52 L59.65,186.60 L60.15,187.67 L60.65,188.71 L61.15,189.71 L61.30,190.00 L61.65,190.66 L62.15,191.60 L62.65,192.52 L63.15,193.42 L63.65,194.29 L64.15,195.14 L64.65,195.95 L65.15,196.73 L65.60,197.40 L65.65,197.47 L66.15,198.18 L66.65,198.88 L67.15,199.55 L67.65,200.20 L68.15,200.83 L68.65,201.43 L69.15,202.02 L69.65,202.59 L70.15,203.13 L70.60,203.60 L70.65,203.65 L71.15,204.16 L71.65,204.67 L72.15,205.17 L72.65,205.66 L73.15,206.14 L73.65,206.59 L74.15,207.01 L74.65,207.41 L75.15,207.77 L75.65,208.10 L76.00,208.30 L76.15,208.38 L76.65,208.64 L77.15,208.90 L77.65,209.13 L78.15,209.36 L78.65,209.56 L79.15,209.75 L79.65,209.93 L80.15,210.08 L80.65,210.22 L81.00,210.30 L81.15,210.33 L81.65,210.44 L82.15,210.55 L82.65,210.66 L83.15,210.76 L83.65,210.86 L84.15,210.95 L84.65,211.04 L85.15,211.12 L85.65,211.19 L86.15,211.26 L86.65,211.31 L87.15,211.35 L87.65,211.38 L88.15,211.40 L88.50,211.40 L88.65,211.40 L89.15,211.40 L89.65,211.40 L90.15,211.39 L90.65,211.39 L91.15,211.39 L91.65,211.38 L92.15,211.37 L92.65,211.37 L93.15,211.36 L93.65,211.35 L94.15,211.34 L94.65,211.33 L95.15,211.32 L95.65,211.31 L96.00,211.30 L96.15,211.30 L96.65,211.28 L97.15,211.25 L97.65,211.21 L98.15,211.17 L98.65,211.13 L99.15,211.08 L99.65,211.03 L100.00,211.00 L100.15,210.99 L100.65,210.94 L101.15,210.88 L101.65,210.82 L102.15,210.76 L102.65,210.70 L103.15,210.63 L103.65,210.56 L104.15,210.48 L104.65,210.41 L105.00,210.35 L105.15,210.33 L105.65,210.24 L106.15,210.15 L106.65,210.05 L107.15,209.94 L107.65,209.84 L108.15,209.73 L108.65,209.61 L109.15,209.50 L109.65,209.38 L110.00,209.30 L110.15,209.26 L110.65,209.14 L111.15,209.01 L111.65,208.88 L112.15,208.74 L112.65,208.61 L113.15,208.47 L113.65,208.34 L114.15,208.21 L114.65,208.08 L115.00,208.00 L115.15,207.97 L115.65,207.85 L116.15,207.74 L116.65,207.62 L117.15,207.51 L117.65,207.40 L118.15,207.28 L118.65,207.17 L119.15,207.07 L119.65,206.96 L120.15,206.85 L120.65,206.75 L121.15,206.65 L121.65,206.56 L122.15,206.46 L122.65,206.37 L123.15,206.29 L123.65,206.20 L124.15,206.12 L124.65,206.05 L125.00,206.00 L125.15,205.98 L125.65,205.91 L126.15,205.85 L126.65,205.78 L127.15,205.72 L127.65,205.66 L128.15,205.60 L128.65,205.54 L129.15,205.48 L129.65,205.43 L130.15,205.38 L130.65,205.33 L131.15,205.28 L131.65,205.23 L132.15,205.18 L132.65,205.14 L133.15,205.09 L133.65,205.05 L134.15,205.01 L134.65,204.98 L135.00,204.95 L135.15,204.94 L135.65,204.90 L136.15,204.87 L136.65,204.83 L137.15,204.80 L137.65,204.77 L138.15,204.73 L138.65,204.70 L139.15,204.67 L139.65,204.64 L140.15,204.61 L140.65,204.59 L141.15,204.56 L141.65,204.53 L142.15,204.51 L142.65,204.49 L143.15,204.47 L143.65,204.45 L144.15,204.43 L144.65,204.41 L145.00,204.40 L145.15,204.40 L145.65,204.38 L146.15,204.37 L146.65,204.35 L147.15,204.34 L147.65,204.32 L148.15,204.31 L148.65,204.30 L149.15,204.28 L149.65,204.27 L150.15,204.26 L150.65,204.25 L151.15,204.24 L151.65,204.23 L152.15,204.22 L152.65,204.22 L153.15,204.21 L153.65,204.21 L154.15,204.20 L154.65,204.20 L155.00,204.20 L155.15,204.20 L155.65,204.20 L156.15,204.21 L156.65,204.21 L157.15,204.22 L157.65,204.23 L158.15,204.24 L158.65,204.25 L159.15,204.26 L159.65,204.28 L160.15,204.29 L160.65,204.31 L161.15,204.32 L161.65,204.34 L162.00,204.35 L162.15,204.36 L162.65,204.38 L163.15,204.40 L163.65,204.44 L164.15,204.48 L164.65,204.52 L165.15,204.57 L165.65,204.62 L166.15,204.67 L166.65,204.73 L167.15,204.79 L167.65,204.86 L168.15,204.92 L168.65,204.99 L169.15,205.06 L169.65,205.14 L170.15,205.21 L170.65,205.28 L171.15,205.36 L171.65,205.43 L172.15,205.50 L172.65,205.58 L173.15,205.65 L173.65,205.72 L174.15,205.79 L174.65,205.85 L175.00,205.90 L175.15,205.92 L175.65,205.98 L176.15,206.05 L176.65,206.11 L177.15,206.18 L177.65,206.25 L178.15,206.31 L178.65,206.38 L179.15,206.45 L179.65,206.51 L180.15,206.58 L180.65,206.65 L181.15,206.72 L181.65,206.79 L182.15,206.86 L182.65,206.93 L183.15,207.00 L183.65,207.07 L184.15,207.14 L184.65,207.21 L185.15,207.28 L185.65,207.36 L186.15,207.43 L186.65,207.50 L187.15,207.58 L187.30,207.60 L187.65,207.65 L188.15,207.73 L188.65,207.81 L189.15,207.89 L189.65,207.97 L190.15,208.05 L190.65,208.13 L191.15,208.22 L191.65,208.30 L192.15,208.39 L192.65,208.47 L193.15,208.56 L193.65,208.64 L194.15,208.73 L194.65,208.81 L195.15,208.89 L195.65,208.98 L196.15,209.06 L196.65,209.14 L197.15,209.22 L197.65,209.30 L198.15,209.37 L198.65,209.45 L199.15,209.52 L199.65,209.59 L199.70,209.60 L200.15,209.66 L200.65,209.73 L201.15,209.80 L201.65,209.87 L202.15,209.94 L202.65,210.01 L203.15,210.08 L203.65,210.15 L204.15,210.22 L204.65,210.29 L205.15,210.35 L205.65,210.42 L206.15,210.48 L206.65,210.55 L207.15,210.61 L207.65,210.67 L208.15,210.73 L208.65,210.78 L209.15,210.84 L209.65,210.89 L210.15,210.94 L210.65,210.99 L211.15,211.03 L211.65,211.07 L212.00,211.10 L212.15,211.11 L212.65,211.15 L213.15,211.19 L213.65,211.23 L214.15,211.27 L214.65,211.31 L215.15,211.35 L215.65,211.39 L216.15,211.42 L216.65,211.46 L217.15,211.50 L217.65,211.53 L218.15,211.57 L218.65,211.60 L219.15,211.63 L219.65,211.66 L220.15,211.68 L220.65,211.71 L221.15,211.73 L221.65,211.75 L222.15,211.77 L222.65,211.78 L223.15,211.79 L223.65,211.80 L224.15,211.80 L224.40,211.80 L224.65,211.80 L225.15,211.80 L225.65,211.80 L226.15,211.79 L226.65,211.79 L227.15,211.78 L227.65,211.77 L228.15,211.76 L228.65,211.75 L229.15,211.74 L229.65,211.73 L230.15,211.72 L230.65,211.71 L231.15,211.70 L231.65,211.68 L232.15,211.67 L232.65,211.66 L233.15,211.64 L233.65,211.63 L234.15,211.62 L234.65,211.60 L235.15,211.59 L235.65,211.58 L236.15,211.56 L236.65,211.55 L236.70,211.55 L237.15,211.54 L237.65,211.53 L238.15,211.52 L238.65,211.50 L239.15,211.49 L239.65,211.48 L240.15,211.47 L240.65,211.46 L241.15,211.44 L241.65,211.43 L242.15,211.41 L242.65,211.40 L243.15,211.38 L243.65,211.36 L244.15,211.34 L244.65,211.32 L245.00,211.30 L245.15,211.29 L245.65,211.26 L246.15,211.22 L246.65,211.18 L247.15,211.13 L247.65,211.07 L248.15,211.01 L248.65,210.95 L249.15,210.88 L249.65,210.81 L250.15,210.73 L250.65,210.65 L251.00,210.60 L251.15,210.58 L251.65,210.49 L252.15,210.39 L252.65,210.29 L253.15,210.18 L253.65,210.06 L254.15,209.94 L254.65,209.81 L255.15,209.67 L255.65,209.54 L256.15,209.40 L256.65,209.27 L257.15,209.13 L257.65,208.99 L258.00,208.90 L258.15,208.86 L258.65,208.72 L259.15,208.59 L259.65,208.44 L260.15,208.30 L260.65,208.16 L261.15,208.01 L261.65,207.86 L262.15,207.71 L262.65,207.56 L263.15,207.41 L263.65,207.26 L264.15,207.11 L264.50,207.00 L264.65,206.95 L265.15,206.80 L265.65,206.65 L266.15,206.50 L266.65,206.34 L267.15,206.19 L267.65,206.03 L268.15,205.88 L268.65,205.72 L269.15,205.56 L269.65,205.41 L270.15,205.26 L270.65,205.11 L271.00,205.00 L271.15,204.95 L271.65,204.80 L272.15,204.65 L272.65,204.50 L273.15,204.35 L273.65,204.20 L274.15,204.05 L274.65,203.91 L275.15,203.76 L275.65,203.61 L276.15,203.47 L276.65,203.33 L277.15,203.19 L277.50,203.10 L277.65,203.06 L278.15,202.93 L278.65,202.79 L279.15,202.66 L279.65,202.52 L280.15,202.39 L280.65,202.26 L281.15,202.14 L281.65,202.01 L282.15,201.90 L282.65,201.78 L283.15,201.67 L283.65,201.57 L284.00,201.50 L284.15,201.47 L284.65,201.38 L285.15,201.28 L285.65,201.19 L286.15,201.10 L286.65,201.01 L287.15,200.93 L287.65,200.85 L288.15,200.77 L288.65,200.70 L289.15,200.64 L289.65,200.58 L290.15,200.52 L290.40,200.50 L290.65,200.48 L291.15,200.43 L291.65,200.38 L292.15,200.34 L292.65,200.30 L293.15,200.26 L293.65,200.22 L294.15,200.18 L294.65,200.15 L295.15,200.11 L295.65,200.09 L296.15,200.06 L296.65,200.04 L297.15,200.02 L297.65,200.01 L298.00,200.00" fill="none" stroke="#00ff00" stroke-width="1.3" stroke-linejoin="round" stroke-linecap="butt"/>
<path d="M41.65,131.60 L42.15,131.74 L42.65,132.00 L43.15,132.37 L43.65,132.83 L44.15,133.38 L44.65,134.01 L45.15,134.71 L45.65,135.47 L46.15,136.29 L46.65,137.15 L47.15,138.05 L47.65,138.98 L48.15,139.93 L48.50,140.60 L48.65,140.90 L49.15,142.09 L49.65,143.51 L50.15,145.10 L50.65,146.79 L51.15,148.52 L51.65,150.23 L52.15,151.85 L52.20,152.00 L52.65,153.38 L53.15,154.90 L53.65,156.42 L54.15,157.94 L54.65,159.46 L55.15,160.98 L55.65,162.51 L56.15,164.04 L56.65,165.59 L57.15,167.14 L57.20,167.30 L57.65,168.73 L58.15,170.36 L58.65,172.02 L59.15,173.71 L59.65,175.39 L60.15,177.06 L60.65,178.71 L61.15,180.32 L61.65,181.87 L62.15,183.36 L62.65,184.76 L62.70,184.90 L63.15,186.10 L63.65,187.40 L64.15,188.66 L64.65,189.85 L65.15,190.97 L65.65,192.01 L65.80,192.30 L66.15,192.96 L66.65,193.86 L67.15,194.72 L67.65,195.54 L68.15,196.32 L68.65,197.07 L69.15,197.79 L69.65,198.49 L70.10,199.10 L70.15,199.17 L70.65,199.83 L71.15,200.49 L71.65,201.13 L72.15,201.75 L72.65,202.36 L73.15,202.94 L73.65,203.49 L74.15,204.02 L74.65,204.51 L75.15,204.97 L75.30,205.10 L75.65,205.39 L76.15,205.80 L76.65,206.18 L77.15,206.55 L77.65,206.89 L78.15,207.23 L78.65,207.54 L79.15,207.83 L79.65,208.11 L80.00,208.30 L80.15,208.38 L80.65,208.64 L81.15,208.89 L81.65,209.13 L82.15,209.37 L82.65,209.59 L83.15,209.80 L83.65,209.99 L84.15,210.16 L84.65,210.31 L85.00,210.40 L85.15,210.44 L85.65,210.56 L86.15,210.68 L86.65,210.79 L87.15,210.91 L87.65,211.01 L88.15,211.11 L88.65,211.20 L89.15,211.27 L89.65,211.33 L90.15,211.37 L90.65,211.39 L91.00,211.40 L91.15,211.40 L91.65,211.40 L92.15,211.40 L92.65,211.39 L93.15,211.39 L93.65,211.38 L94.15,211.38 L94.65,211.37 L95.15,211.36 L95.65,211.36 L96.00,211.35 L96.15,211.35 L96.65,211.33 L97.15,211.29 L97.65,211.25 L98.15,211.20 L98.65,211.15 L99.15,211.09 L99.65,211.04 L100.00,211.00 L100.15,210.98 L100.65,210.93 L101.15,210.87 L101.65,210.82 L102.15,210.75 L102.65,210.69 L103.15,210.62 L103.65,210.55 L104.15,210.48 L104.65,210.41 L105.00,210.35 L105.15,210.33 L105.65,210.24 L106.15,210.15 L106.65,210.05 L107.15,209.94 L107.65,209.84 L108.15,209.73 L108.65,209.61 L109.15,209.50 L109.65,209.38 L110.00,209.30 L110.15,209.26 L110.65,209.14 L111.15,209.01 L111.65,208.88 L112.15,208.74 L112.65,208.61 L113.15,208.47 L113.65,208.34 L114.15,208.21 L114.65,208.08 L115.00,208.00 L115.15,207.97 L115.65,207.85 L116.15,207.74 L116.65,207.62 L117.15,207.51 L117.65,207.40 L118.15,207.28 L118.65,207.17 L119.15,207.07 L119.65,206.96 L120.15,206.85 L120.65,206.75 L121.15,206.65 L121.65,206.56 L122.15,206.46 L122.65,206.37 L123.15,206.29 L123.65,206.20 L124.15,206.12 L124.65,206.05 L125.00,206.00 L125.15,205.98 L125.65,205.91 L126.15,205.85 L126.65,205.78 L127.15,205.72 L127.65,205.66 L128.15,205.60 L128.65,205.54 L129.15,205.48 L129.65,205.43 L130.15,205.38 L130.65,205.33 L131.15,205.28 L131.65,205.23 L132.15,205.18 L132.65,205.14 L133.15,205.09 L133.65,205.05 L134.15,205.01 L134.65,204.98 L135.00,204.95 L135.15,204.94 L135.65,204.90 L136.15,204.87 L136.65,204.83 L137.15,204.80 L137.65,204.77 L138.15,204.73 L138.65,204.70 L139.15,204.67 L139.65,204.64 L140.15,204.61 L140.65,204.59 L141.15,204.56 L141.65,204.53 L142.15,204.51 L142.65,204.49 L143.15,204.47 L143.65,204.45 L144.15,204.43 L144.65,204.41 L145.00,204.40 L145.15,204.40 L145.65,204.38 L146.15,204.37 L146.65,204.35 L147.15,204.34 L147.65,204.32 L148.15,204.31 L148.65,204.30 L149.15,204.28 L149.65,204.27 L150.15,204.26 L150.65,204.25 L151.15,204.24 L151.65,204.23 L152.15,204.22 L152.65,204.22 L153.15,204.21 L153.65,204.21 L154.15,204.20 L154.65,204.20 L155.00,204.20 L155.15,204.20 L155.65,204.20 L156.15,204.21 L156.65,204.21 L157.15,204.22 L157.65,204.23 L158.15,204.24 L158.65,204.25 L159.15,204.26 L159.65,204.28 L160.15,204.29 L160.65,204.31 L161.15,204.32 L161.65,204.34 L162.00,204.35 L162.15,204.36 L162.65,204.38 L163.15,204.40 L163.65,204.44 L164.15,204.48 L164.65,204.52 L165.15,204.57 L165.65,204.62 L166.15,204.67 L166.65,204.73 L167.15,204.79 L167.65,204.86 L168.15,204.92 L168.65,204.99 L169.15,205.06 L169.65,205.14 L170.15,205.21 L170.65,205.28 L171.15,205.36 L171.65,205.43 L172.15,205.50 L172.65,205.58 L173.15,205.65 L173.65,205.72 L174.15,205.79 L174.65,205.85 L175.00,205.90 L175.15,205.92 L175.65,205.98 L176.15,206.05 L176.65,206.11 L177.15,206.18 L177.65,206.25 L178.15,206.31 L178.65,206.38 L179.15,206.45 L179.65,206.51 L180.15,206.58 L180.65,206.65 L181.15,206.72 L181.65,206.79 L182.15,206.86 L182.65,206.93 L183.15,207.00 L183.65,207.07 L184.15,207.14 L184.65,207.21 L185.15,207.28 L185.65,207.36 L186.15,207.43 L186.65,207.50 L187.15,207.58 L187.30,207.60 L187.65,207.65 L188.15,207.73 L188.65,207.81 L189.15,207.89 L189.65,207.97 L190.15,208.05 L190.65,208.13 L191.15,208.22 L191.65,208.30 L192.15,208.39 L192.65,208.47 L193.15,208.56 L193.65,208.64 L194.15,208.73 L194.65,208.81 L195.15,208.89 L195.65,208.98 L196.15,209.06 L196.65,209.14 L197.15,209.22 L197.65,209.30 L198.15,209.37 L198.65,209.45 L199.15,209.52 L199.65,209.59 L199.70,209.60 L200.15,209.66 L200.65,209.73 L201.15,209.80 L201.65,209.87 L202.15,209.94 L202.65,210.01 L203.15,210.08 L203.65,210.15 L204.15,210.22 L204.65,210.29 L205.15,210.35 L205.65,210.42 L206.15,210.48 L206.65,210.55 L207.15,210.61 L207.65,210.67 L208.15,210.73 L208.65,210.78 L209.15,210.84 L209.65,210.89 L210.15,210.94 L210.65,210.99 L211.15,211.03 L211.65,211.07 L212.00,211.10 L212.15,211.11 L212.65,211.15 L213.15,211.19 L213.65,211.23 L214.15,211.27 L214.65,211.31 L215.15,211.35 L215.65,211.39 L216.15,211.42 L216.65,211.46 L217.15,211.50 L217.65,211.53 L218.15,211.57 L218.65,211.60 L219.15,211.63 L219.65,211.66 L220.15,211.68 L220.65,211.71 L221.15,211.73 L221.65,211.75 L222.15,211.77 L222.65,211.78 L223.15,211.79 L223.65,211.80 L224.15,211.80 L224.40,211.80 L224.65,211.80 L225.15,211.80 L225.65,211.80 L226.15,211.79 L226.65,211.79 L227.15,211.78 L227.65,211.78 L228.15,211.77 L228.65,211.76 L229.15,211.76 L229.65,211.75 L230.15,211.74 L230.65,211.73 L231.15,211.72 L231.65,211.71 L232.15,211.70 L232.65,211.69 L233.15,211.68 L233.65,211.66 L234.15,211.65 L234.65,211.64 L235.15,211.63 L235.65,211.62 L236.15,211.61 L236.65,211.60 L236.70,211.60 L237.15,211.59 L237.65,211.58 L238.15,211.57 L238.65,211.56 L239.15,211.55 L239.65,211.54 L240.15,211.53 L240.65,211.52 L241.15,211.51 L241.65,211.50 L242.15,211.49 L242.65,211.48 L243.15,211.46 L243.65,211.45 L244.15,211.43 L244.65,211.41 L245.00,211.40 L245.15,211.39 L245.65,211.37 L246.15,211.34 L246.65,211.31 L247.15,211.28 L247.65,211.24 L248.15,211.20 L248.65,211.15 L249.15,211.10 L249.65,211.05 L250.15,211.00 L250.65,210.94 L251.00,210.90 L251.15,210.88 L251.65,210.82 L252.15,210.74 L252.65,210.66 L253.15,210.57 L253.65,210.47 L254.15,210.37 L254.65,210.26 L255.15,210.15 L255.65,210.04 L256.15,209.92 L256.65,209.81 L257.15,209.69 L257.65,209.58 L258.00,209.50 L258.15,209.47 L258.65,209.35 L259.15,209.24 L259.65,209.12 L260.15,209.00 L260.65,208.88 L261.15,208.76 L261.65,208.63 L262.15,208.51 L262.65,208.38 L263.15,208.25 L263.65,208.12 L264.15,207.99 L264.50,207.90 L264.65,207.86 L265.15,207.73 L265.65,207.59 L266.15,207.46 L266.65,207.32 L267.15,207.18 L267.65,207.04 L268.15,206.90 L268.65,206.76 L269.15,206.62 L269.65,206.48 L270.15,206.34 L270.65,206.20 L271.00,206.10 L271.15,206.06 L271.65,205.92 L272.15,205.78 L272.65,205.64 L273.15,205.50 L273.65,205.36 L274.15,205.21 L274.65,205.07 L275.15,204.94 L275.65,204.80 L276.15,204.66 L276.65,204.52 L277.15,204.39 L277.50,204.30 L277.65,204.26 L278.15,204.13 L278.65,204.00 L279.15,203.87 L279.65,203.74 L280.15,203.61 L280.65,203.49 L281.15,203.36 L281.65,203.24 L282.15,203.12 L282.65,203.00 L283.15,202.89 L283.65,202.78 L284.00,202.70 L284.15,202.67 L284.65,202.56 L285.15,202.46 L285.65,202.35 L286.15,202.25 L286.65,202.15 L287.15,202.06 L287.65,201.96 L288.15,201.87 L288.65,201.78 L289.15,201.70 L289.65,201.61 L290.15,201.54 L290.40,201.50 L290.65,201.46 L291.15,201.39 L291.65,201.32 L292.15,201.25 L292.65,201.19 L293.15,201.12 L293.65,201.06 L294.15,200.99 L294.65,200.93 L295.15,200.88 L295.65,200.82 L296.15,200.77 L296.65,200.72 L297.15,200.67 L297.65,200.63 L298.00,200.60" fill="none" stroke="#00ff00" stroke-width="1.3" stroke-linejoin="round" stroke-dasharray="3.6 4.6" stroke-linecap="butt"/></g>
<g stroke="#000" stroke-width="0.5"><rect x="31.9" y="31.5" width="275.60" height="187.90" fill="none" stroke-width="0.55" stroke-linejoin="round"/><line x1="42.35" y1="219.4" x2="297.50" y2="219.4"/><line x1="31.9" y1="212.40" x2="31.9" y2="56.50"/><line x1="42.35" y1="219.4" x2="42.35" y2="223.6"/><line x1="93.38" y1="219.4" x2="93.38" y2="223.6"/><line x1="144.41" y1="219.4" x2="144.41" y2="223.6"/><line x1="195.44" y1="219.4" x2="195.44" y2="223.6"/><line x1="246.47" y1="219.4" x2="246.47" y2="223.6"/><line x1="297.50" y1="219.4" x2="297.50" y2="223.6"/><line x1="27.7" y1="212.40" x2="31.9" y2="212.40"/><line x1="27.7" y1="181.22" x2="31.9" y2="181.22"/><line x1="27.7" y1="150.04" x2="31.9" y2="150.04"/><line x1="27.7" y1="118.86" x2="31.9" y2="118.86"/><line x1="27.7" y1="87.68" x2="31.9" y2="87.68"/><line x1="27.7" y1="56.50" x2="31.9" y2="56.50"/></g>
<g><rect x="181.55" y="31.5" width="125.95" height="65.30" fill="#fff" stroke="#000" stroke-width="0.55" stroke-linejoin="round"/><line x1="187.75" y1="40.98" x2="203.15" y2="40.98" stroke="#0000ff" stroke-width="1.3"/><line x1="187.75" y1="50.31" x2="203.15" y2="50.31" stroke="#0000ff" stroke-width="1.3" stroke-dasharray="3.6 4.6"/><line x1="187.75" y1="59.64" x2="203.15" y2="59.64" stroke="#ff0000" stroke-width="1.3"/><line x1="187.75" y1="68.96" x2="203.15" y2="68.96" stroke="#ff0000" stroke-width="1.3" stroke-dasharray="3.6 4.6"/><line x1="187.75" y1="78.29" x2="203.15" y2="78.29" stroke="#00ff00" stroke-width="1.3"/><line x1="187.75" y1="87.62" x2="203.15" y2="87.62" stroke="#00ff00" stroke-width="1.3" stroke-dasharray="3.6 4.6"/></g>
</g>
<g filter="url(#tb)"><text transform="translate(42.15,233.50) scale(1,1.1)" font-size="8.95" text-anchor="middle">0.0</text><text transform="translate(93.18,233.50) scale(1,1.1)" font-size="8.95" text-anchor="middle">0.1</text><text transform="translate(144.21,233.50) scale(1,1.1)" font-size="8.95" text-anchor="middle">0.2</text><text transform="translate(195.24,233.50) scale(1,1.1)" font-size="8.95" text-anchor="middle">0.3</text><text transform="translate(246.27,233.50) scale(1,1.1)" font-size="8.95" text-anchor="middle">0.4</text><text transform="translate(297.30,233.50) scale(1,1.1)" font-size="8.95" text-anchor="middle">0.5</text><text transform="translate(23.00,212.40) rotate(-90) scale(1,1.1)" font-size="8.95" text-anchor="middle">0.00</text><text transform="translate(23.00,181.22) rotate(-90) scale(1,1.1)" font-size="8.95" text-anchor="middle">0.02</text><text transform="translate(23.00,150.04) rotate(-90) scale(1,1.1)" font-size="8.95" text-anchor="middle">0.04</text><text transform="translate(23.00,118.86) rotate(-90) scale(1,1.1)" font-size="8.95" text-anchor="middle">0.06</text><text transform="translate(23.00,87.68) rotate(-90) scale(1,1.1)" font-size="8.95" text-anchor="middle">0.08</text><text transform="translate(23.00,56.50) rotate(-90) scale(1,1.1)" font-size="8.95" text-anchor="middle">0.10</text><text transform="translate(169.70,249.10) scale(1,1.1)" font-size="9.1" text-anchor="middle" stroke="#000" stroke-width="0.05">Frequency</text><text transform="translate(7.10,125.45) rotate(-90) scale(1,1.1)" font-size="9.1" text-anchor="middle" stroke="#000" stroke-width="0.05">Coherence</text><text transform="translate(209.80,43.98) scale(1,1.06)" font-size="7.6" text-anchor="start" stroke="#000" stroke-width="0.12">Est: Node 1 vs 8 (Model 3)</text><text transform="translate(209.80,53.31) scale(1,1.06)" font-size="7.6" text-anchor="start" stroke="#000" stroke-width="0.12">True: Node 1 vs 8 (Model 3)</text><text transform="translate(209.80,62.64) scale(1,1.06)" font-size="7.6" text-anchor="start" stroke="#000" stroke-width="0.12">Est: Node 1 vs 4 (Model 3)</text><text transform="translate(209.80,71.96) scale(1,1.06)" font-size="7.6" text-anchor="start" stroke="#000" stroke-width="0.12">True: Node 1 vs 4 (Model 3)</text><text transform="translate(209.80,81.29) scale(1,1.06)" font-size="7.6" text-anchor="start" stroke="#000" stroke-width="0.12">Est: Node 1 vs 2 (Model 3)</text><text transform="translate(209.80,90.62) scale(1,1.06)" font-size="7.6" text-anchor="start" stroke="#000" stroke-width="0.12">True: Node 1 vs 2 (Model 3)</text></g>
</svg>
</body></html>
